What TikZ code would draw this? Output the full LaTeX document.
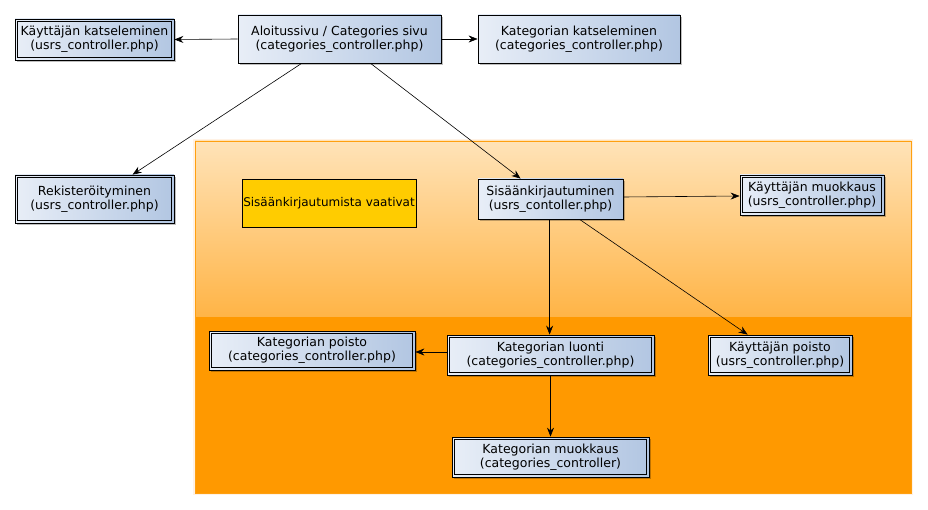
\documentclass[tikz,border=0pt]{standalone}
\usepackage{fontspec}
\setmainfont{DejaVu Sans}
\usetikzlibrary{arrows.meta,shadows,calc}
\definecolor{boxL}{HTML}{E8EEF7}
\definecolor{boxR}{HTML}{B2C6E2}
\definecolor{orTop}{HTML}{FFE3B8}
\definecolor{orMid}{HTML}{FFB446}
\definecolor{orLow}{HTML}{FF9900}
\definecolor{orEdge}{HTML}{FFA010}
\definecolor{yel}{HTML}{FFCC00}
\tikzset{
  box/.style={draw=black, line width=0.8pt, left color=boxL, right color=boxR,
    align=center, inner sep=0pt, font=\fontsize{12.5}{14}\selectfont,
    drop shadow={shadow xshift=2pt, shadow yshift=-2pt, opacity=0.25, fill=black}},
  note/.style={draw=black, line width=0.6pt, fill=yel, align=center, inner sep=0pt,
    font=\fontsize{12}{14}\selectfont},
  conn/.style={-{Stealth[length=9pt,width=7pt,inset=3pt]}, line width=0.6pt},
}
\newcommand{\innerbox}[1]{\draw[line width=0.6pt] ($(#1.north west)+(3,3)$) rectangle ($(#1.south east)+(-3,-3)$);}
\begin{document}
\begin{tikzpicture}[x=1pt,y=-1pt]
\useasboundingbox (0,0) rectangle (928,510);
% container
\fill[orange!20, opacity=0.5] (193,139) rectangle (913,495);
\shade[top color=orTop, bottom color=orMid] (195,141) rectangle (911,317);
\fill[orLow] (195,317) rectangle (911,493);
\draw[orEdge, line width=0.8pt] (195,141) rectangle (911,493);

% nodes
\node[box, minimum width=159pt, minimum height=41pt] (kk) at (94.5,39.5) {Käyttäjän katseleminen\\(usrs\_controller.php)};
\innerbox{kk}
\node[box, minimum width=203pt, minimum height=48pt] (al) at (339.5,39) {Aloitussivu / Categories sivu\\(categories\_controller.php)};
\node[box, minimum width=202pt, minimum height=48pt] (kat) at (579,39) {Kategorian katseleminen\\(categories\_controller.php)};
\node[box, minimum width=159pt, minimum height=48pt] (rek) at (94.5,199) {Rekisteröityminen\\(usrs\_controller.php)};
\innerbox{rek}
\node[note, minimum width=174pt, minimum height=48pt] (sv) at (329,203) {Sisäänkirjautumista vaativat};
\node[box, minimum width=145pt, minimum height=40pt] (sis) at (550.5,199) {Sisäänkirjautuminen\\(usrs\_contoller.php)};
\node[box, minimum width=144pt, minimum height=40pt] (km) at (812,195) {Käyttäjän muokkaus\\(usrs\_controller.php)};
\innerbox{km}
\node[box, minimum width=206pt, minimum height=39pt] (kp) at (312,350.5) {Kategorian poisto\\(categories\_controller.php)};
\innerbox{kp}
\node[box, minimum width=207pt, minimum height=40pt] (kl) at (550.5,355) {Kategorian luonti\\(categories\_controller.php)};
\innerbox{kl}
\node[box, minimum width=144pt, minimum height=40pt] (kpo) at (780,355) {Käyttäjän poisto\\(usrs\_controller.php)};
\innerbox{kpo}
\node[box, minimum width=197pt, minimum height=40pt] (kmu) at (550.5,457) {Kategorian muokkaus\\(categories\_controller)};
\innerbox{kmu}

% connectors
\draw[conn] (al.west) -- (kk.east);
\draw[conn] (al.east) -- (kat.west);
\draw[conn] ($(al.south west)+(64,0)$) -- ($(rek.north west)+(118,0)$);
\draw[conn] ($(al.south west)+(133,0)$) -- ($(sis.north west)+(43,0)$);
\draw[conn] ($(sis.east)+(0,-2)$) -- ($(km.west)+(0,1)$);
\draw[conn] ($(sis.south west)+(72,0)$) -- ($(kl.north west)+(103,0)$);
\draw[conn] ($(sis.south west)+(102,0)$) -- ($(kpo.north west)+(40,0)$);
\draw[conn] ($(kl.west)+(0,-3)$) -- ($(kp.east)+(0,1.5)$);
\draw[conn] (kl.south) -- (kmu.north);
\end{tikzpicture}
\end{document}
